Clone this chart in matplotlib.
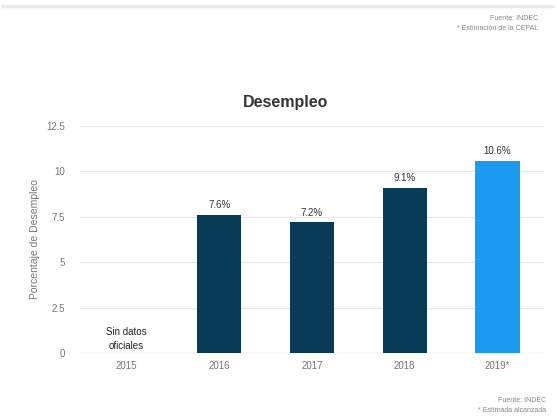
import matplotlib
matplotlib.use("Agg")
import matplotlib.pyplot as plt
from matplotlib.lines import Line2D

categories = ["2015", "2016", "2017", "2018", "2019*"]
values = [0, 7.6, 7.2, 9.1, 10.6]
has_data = [False, True, True, True, True]
yticks = [0, 2.5, 5, 7.5, 10, 12.5]
ytick_labels = ["0", "2.5", "5", "7.5", "10", "12.5"]

plt.rcParams['font.family'] = ['Liberation Sans', 'DejaVu Sans']

W, H = 557, 419
fig = plt.figure(figsize=(W / 100, H / 100), dpi=100)
fig.patch.set_facecolor("white")

left, right = 80 / W, 544 / W
bottom, top = 1 - 353 / H, 1 - 126 / H
ax = fig.add_axes([left, bottom, right - left, top - bottom])

dark = "#073b56"
light = "#1a9bf0"
colors = [dark, dark, dark, dark, light]
x = list(range(len(categories)))
for i, (v, c, d) in enumerate(zip(values, colors, has_data)):
    if d:
        ax.bar(i, v, width=0.48, color=c, zorder=3)
        ax.text(i, v + 0.25, f"{v:.1f}%", ha="center", va="bottom",
                fontsize=7, color="#333333", zorder=4)
    else:
        ax.text(i, 0.12, "Sin datos\noficiales", ha="center", va="bottom",
                fontsize=7, color="#222222", linespacing=1.45, zorder=4)

ax.set_xlim(-0.5, 4.5)
ax.set_ylim(0, 12.5)
ax.set_yticks(yticks)
ax.set_yticklabels(ytick_labels)
ax.set_xticks(x)
ax.set_xticklabels(categories)
ax.tick_params(axis="both", length=0, labelsize=7, labelcolor="#777777")
ax.tick_params(axis="y", pad=11)
ax.tick_params(axis="x", pad=6)
ax.grid(axis="y", color="#e6e6e6", linewidth=0.8, zorder=0)
for s in ax.spines.values():
    s.set_visible(False)
ax.axhline(0, color="#d0d0d0", linewidth=0.8, zorder=2)
ax.set_ylabel("Porcentaje de Desempleo", fontsize=7.5, color="#777777", labelpad=0)
ax.yaxis.set_label_coords((40 - 80) / (544 - 80), 0.5)

fig.text(286 / W, 1 - 103 / H, "Desempleo", ha="center", va="center",
         fontsize=11.5, fontweight="bold", color="#333333")

fig.add_artist(Line2D([3 / W, 552 / W], [1 - 6 / H, 1 - 6 / H],
                      color="#ebebeb", linewidth=2.5))

fig.text(538 / W, 1 - 18 / H, "Fuente: INDEC", ha="right", va="center",
         fontsize=5, color="#888888")
fig.text(538 / W, 1 - 28 / H, "* Estimación de la CEPAL", ha="right", va="center",
         fontsize=5, color="#888888")
fig.text(546 / W, 1 - 400 / H, "Fuente: INDEC", ha="right", va="center",
         fontsize=5, color="#888888")
fig.text(546 / W, 1 - 410 / H, "* Estimada alcanzada", ha="right", va="center",
         fontsize=5, color="#888888")

fig.savefig("out.png", dpi=100, facecolor="white")
